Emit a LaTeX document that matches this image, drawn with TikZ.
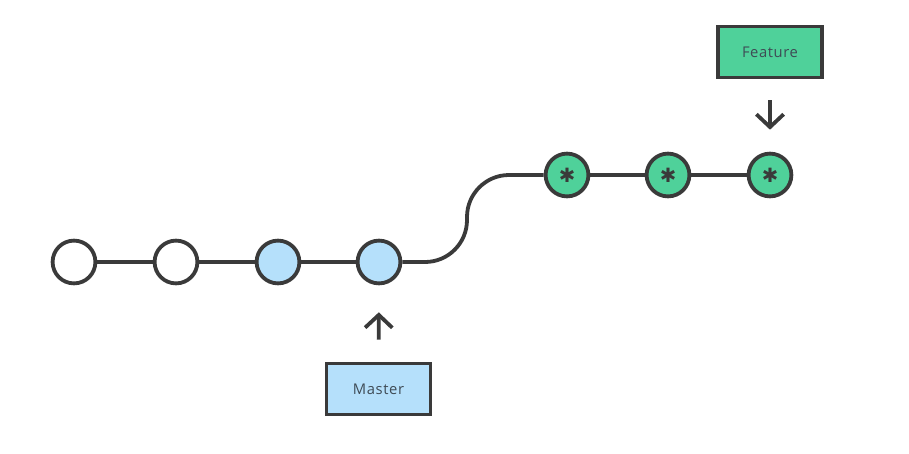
\documentclass[tikz,border=0pt]{standalone}
\usepackage{fontspec}
\setmainfont{Open Sans}[LetterSpace=4]
\newfontfamily\symfont{DejaVu Sans}
\usetikzlibrary{arrows.meta,positioning}

\definecolor{linegray}{HTML}{3A3A3A}
\definecolor{masterblue}{HTML}{B5E0FB}
\definecolor{featuregreen}{HTML}{4FD19A}
\definecolor{labeltext}{HTML}{3E4B55}

\begin{document}
\begin{tikzpicture}[x=0.025cm, y=-0.025cm, color=linegray, line width=2.7pt,
  every node/.style={font=\fontsize{10.5}{12}\selectfont, text=labeltext},
  commit/.style={circle, draw=linegray, line width=2.7pt, minimum size=1.07cm, inner sep=0pt},
  branchbox/.style={rectangle, draw=linegray, line width=2.7pt, minimum width=2.6cm, minimum height=1.27cm},
  pointer/.style={-{Straight Barb[length=0.32cm, width=0.68cm]}}]
\useasboundingbox (0,0) rectangle (909,454);
% master line
\node[commit, fill=white] (c1) at (74,262) {};
\node[commit, fill=white] (c2) at (176,262) {};
\node[commit, fill=masterblue] (c3) at (278,262) {};
\node[commit, fill=masterblue] (c4) at (379,262) {};
% feature line
\node[commit, fill=featuregreen, text=linegray] (f1) at (567,175) {\symfont\fontsize{14}{14}\selectfont ✱};
\node[commit, fill=featuregreen, text=linegray] (f2) at (668,175) {\symfont\fontsize{14}{14}\selectfont ✱};
\node[commit, fill=featuregreen, text=linegray] (f3) at (770,175) {\symfont\fontsize{14}{14}\selectfont ✱};
\draw (c1) -- (c2);
\draw (c2) -- (c3);
\draw (c3) -- (c4);
\draw[rounded corners=1.05cm] (c4.east) -- (467,262) -- (467,175) -- (f1.west);
\draw (f1) -- (f2);
\draw (f2) -- (f3);
% branch labels
\node[branchbox, fill=masterblue] (master) at (378.5,389) {Master};
\node[branchbox, fill=featuregreen] (feature) at (770,52) {Feature};
\draw[pointer, shorten <=0.55cm, shorten >=0.675cm] (master.north) -- (c4.south);
\draw[pointer, shorten <=0.525cm, shorten >=0.55cm] (feature.south) -- (f3.north);
\end{tikzpicture}
\end{document}
